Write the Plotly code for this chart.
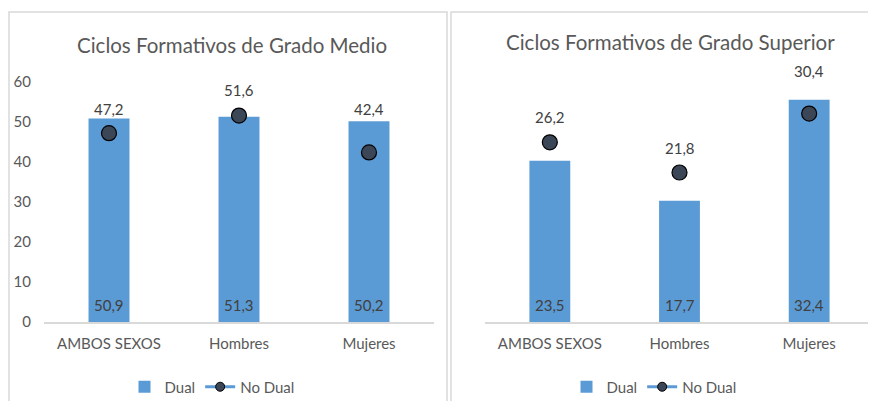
import plotly.graph_objects as go

categorias = ["AMBOS SEXOS", "Hombres", "Mujeres"]

medio_dual = [50.9, 51.3, 50.2]
medio_no_dual = [47.2, 51.6, 42.4]

superior_dual = [23.5, 17.7, 32.4]
superior_no_dual = [26.2, 21.8, 30.4]

y_ticks = [0, 10, 20, 30, 40, 50, 60]

# la página deja 8 px de margen en el body: la figura empieza en (8, 8)
OFF = 8
W, H = 876 - OFF, 401 - OFF
azul = "#5B9BD5"
punto = "#3B4656"
gris_txt = "#595959"
txt_dato = "#404040"
FONT = "Lato"

def px_x(p):
    return (p - OFF) / W

def px_y(p):
    return 1 - (p - OFF) / H

def coma(v):
    return f"{v:.1f}".replace(".", ",")

fig = go.Figure()

# desplazamiento vertical (px) de las etiquetas de "No Dual", como en el original
paneles = [
    (medio_dual, medio_no_dual, "x", "y", "legend", [24, 26, 43]),
    (superior_dual, superior_no_dual, "x2", "y2", "legend2", [25, 25, 43]),
]

etiquetas = []
for dual, no_dual, xa, ya, leg, desp in paneles:
    fig.add_trace(go.Bar(
        x=categorias, y=dual, name="Dual",
        marker=dict(color=azul, line=dict(width=0)),
        width=0.315,
        xaxis=xa, yaxis=ya, legend=leg
    ))
    fig.add_trace(go.Scatter(
        x=categorias, y=no_dual, mode="markers", name="No Dual",
        marker=dict(size=15, color=punto, line=dict(color="black", width=1.2)),
        cliponaxis=False,
        showlegend=False,
        xaxis=xa, yaxis=ya, legend=leg
    ))
    # entrada de leyenda con línea, como en el original
    fig.add_trace(go.Scatter(
        x=[None], y=[None], mode="lines+markers", name="No Dual",
        line=dict(color=azul, width=3),
        marker=dict(size=9, color=punto, line=dict(color="black", width=1)),
        xaxis=xa, yaxis=ya, legend=leg
    ))
    for c, v, d in zip(categorias, no_dual, desp):
        etiquetas.append(dict(
            x=c, y=v, xref=xa, yref=ya, text=coma(v), showarrow=False,
            yshift=d, font=dict(family=FONT, size=15, color=txt_dato)
        ))
    for c, v in zip(categorias, dual):
        etiquetas.append(dict(
            x=c, y=0, xref=xa, yref=ya, text=coma(v), showarrow=False,
            yanchor="middle", yshift=17,
            font=dict(family=FONT, size=15, color=txt_dato)
        ))

eje_x = dict(
    showline=True, linecolor="#D9D9D9", linewidth=1.5,
    ticks="", showgrid=False, zeroline=False, ticklabelstandoff=7,
    tickfont=dict(family=FONT, size=15, color=gris_txt),
)

fig.update_layout(
    width=W, height=H,
    margin=dict(l=0, r=0, t=0, b=0, autoexpand=False),
    paper_bgcolor="white", plot_bgcolor="white",
    separators=",.",
    xaxis=dict(domain=[px_x(44), px_x(434)], anchor="y", **eje_x),
    xaxis2=dict(domain=[px_x(485), px_x(874)], anchor="y2", **eje_x),
    yaxis=dict(domain=[px_y(322), px_y(82)], anchor="x", range=[0, 60],
               tickvals=y_ticks, showgrid=False, zeroline=False, showline=False,
               ticks="", ticklabelstandoff=12,
               tickfont=dict(family=FONT, size=15, color=gris_txt)),
    yaxis2=dict(domain=[px_y(322), px_y(82)], anchor="x2", range=[0, 35],
                visible=False),
    legend=dict(orientation="h", x=px_x(212), y=px_y(387),
                xanchor="center", yanchor="middle",
                font=dict(family=FONT, size=15, color=gris_txt),
                itemwidth=30, tracegroupgap=0),
    legend2=dict(orientation="h", x=px_x(654), y=px_y(387),
                 xanchor="center", yanchor="middle",
                 font=dict(family=FONT, size=15, color=gris_txt),
                 itemwidth=30, tracegroupgap=0),
    shapes=[
        dict(type="rect", xref="paper", yref="paper",
             x0=px_x(9), x1=px_x(447), y0=-0.1, y1=px_y(12),
             line=dict(color="#D9D9D9", width=1.5), layer="below"),
        dict(type="rect", xref="paper", yref="paper",
             x0=px_x(451), x1=1.01, y0=-0.1, y1=px_y(12),
             line=dict(color="#D9D9D9", width=1.5), layer="below"),
    ],
    annotations=[
        dict(text="Ciclos Formativos de Grado Medio", xref="paper", yref="paper",
             x=px_x(232), y=px_y(45), showarrow=False,
             xanchor="center", yanchor="middle",
             font=dict(family=FONT, size=20.5, color=gris_txt)),
        dict(text="Ciclos Formativos de Grado Superior", xref="paper", yref="paper",
             x=px_x(670), y=px_y(42), showarrow=False,
             xanchor="center", yanchor="middle",
             font=dict(family=FONT, size=20.5, color=gris_txt)),
    ] + etiquetas,
)

fig.write_html("out.html")
